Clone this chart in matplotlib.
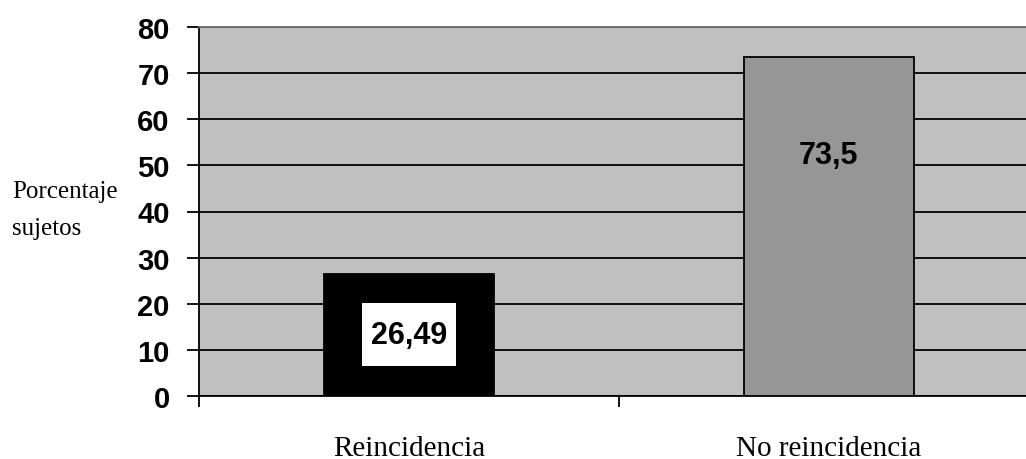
import matplotlib.pyplot as plt

# Porcentaje de sujetos por grupo
categorias = ["Reincidencia", "No reincidencia"]
porcentajes = [26.49, 73.5]
etiquetas = ["26,49", "73,5"]
colores = ["#000000", "#969696"]
yticks = [0, 10, 20, 30, 40, 50, 60, 70, 80]

fig = plt.figure(figsize=(10.26, 4.60), dpi=100)
ax = fig.add_axes([199 / 1026, 63 / 460, 840 / 1026, 369 / 460])
ax.set_facecolor("#C0C0C0")

pos = list(range(len(categorias)))
ax.bar(pos, porcentajes, width=0.405, color=colores, edgecolor="black",
       linewidth=1.3, zorder=3)

# rótulos de valor
ax.text(pos[0], porcentajes[0] / 2, etiquetas[0], ha="center", va="center",
        fontsize=22, fontweight="bold", family="Liberation Sans", zorder=4,
        bbox=dict(boxstyle="square,pad=0.3", facecolor="white", edgecolor="none",
                  mutation_aspect=1.8))
ax.text(pos[1], porcentajes[1] - 21.2, etiquetas[1], ha="center", va="center",
        fontsize=22, fontweight="bold", family="Liberation Sans", zorder=4)

ax.set_xlim(-0.5, 1.5)
ax.set_ylim(0, 80)
ax.set_yticks(yticks)
ax.set_yticklabels([str(v) for v in yticks], fontsize=21, fontweight="bold",
                   family="Liberation Sans")
ax.tick_params(axis="y", length=9, width=1.3, pad=12)

ax.set_xticks([-0.5, 0.5, 1.5])
ax.set_xticklabels([])
ax.set_xticks(pos, minor=True)
ax.set_xticklabels(categorias, minor=True, fontsize=21, family="Liberation Serif")
ax.tick_params(axis="x", which="major", length=8, width=1.3, direction="out")
ax.tick_params(axis="x", which="minor", length=0, pad=28)

ax.grid(axis="y", color="black", linewidth=1.3)
ax.set_axisbelow(True)

ax.spines["left"].set_linewidth(1.3)
ax.spines["bottom"].set_linewidth(1.3)
ax.spines["top"].set_color("#707070")
ax.spines["top"].set_linewidth(1.3)
ax.spines["right"].set_visible(False)

# título del eje y, en dos líneas
fig.text(12 / 1026, 1 - 198 / 460, "Porcentaje", ha="left", va="baseline",
         fontsize=18, family="Liberation Serif")
fig.text(12 / 1026, 1 - 235 / 460, "sujetos", ha="left", va="baseline",
         fontsize=18, family="Liberation Serif")

fig.savefig("out.png", dpi=100)
